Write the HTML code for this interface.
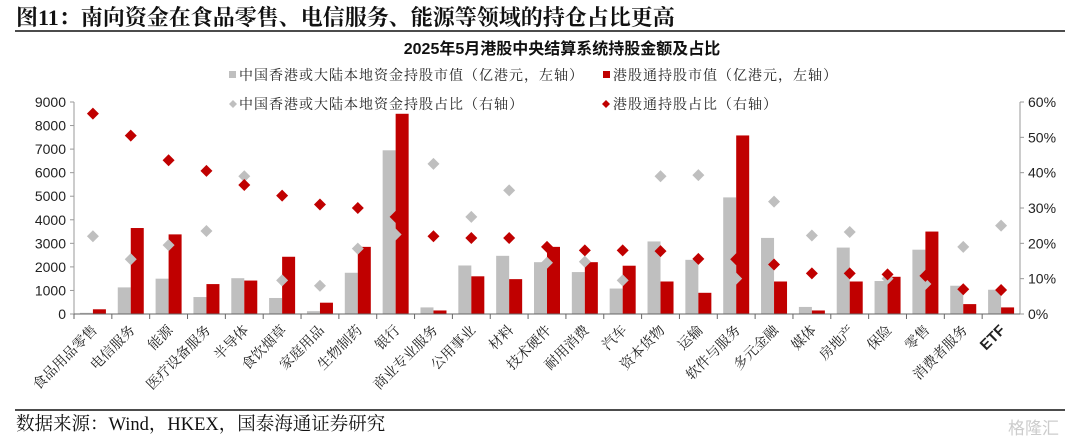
<!DOCTYPE html>
<html><head><meta charset="utf-8">
<style>
html,body{margin:0;padding:0;background:#fff;}
body{width:1080px;height:442px;overflow:hidden;position:relative;}
svg{position:absolute;left:0;top:0;}
</style></head>
<body>
<svg id="chart" width="1080" height="442" xmlns="http://www.w3.org/2000/svg">
  <text x="16" y="25" font-family="'Liberation Serif','Noto Serif CJK SC',serif" font-weight="bold" font-size="22" fill="#111">图11：南向资金在食品零售、电信服务、能源等领域的持仓占比更高</text>
  <line x1="15" y1="31" x2="1065" y2="31" stroke="#111" stroke-width="1.5"/>
  <text x="562" y="54" text-anchor="middle" font-family="'Liberation Sans','Noto Sans CJK SC',sans-serif" font-weight="bold" font-size="16" fill="#111">2025年5月港股中央结算系统持股金额及占比</text>
  <g font-family="'Liberation Serif','Noto Serif CJK SC',serif" font-size="14" letter-spacing="1" fill="#222">
    <g><rect x="229" y="71" width="7" height="7" fill="#bfbfbf"/><text x="239" y="80">中国香港或大陆本地资金持股市值（亿港元，左轴）</text></g>
    <g><rect x="603" y="71" width="7" height="7" fill="#c00000"/><text x="613" y="80">港股通持股市值（亿港元，左轴）</text></g>
    <g><path d="M233,100 L237,104 L233,108 L229,104Z" fill="#bfbfbf"/><text x="239" y="109">中国香港或大陆本地资金持股占比（右轴）</text></g>
    <g><path d="M606,100 L610,104 L606,108 L602,104Z" fill="#c00000"/><text x="613" y="109">港股通持股占比（右轴）</text></g>
  </g>
  <g id="plot"></g>
  <line x1="15" y1="410" x2="1065" y2="410" stroke="#111" stroke-width="1.5"/>
  <text x="16" y="430" font-family="'Liberation Serif','Noto Serif CJK SC',serif" font-size="18.5" fill="#111">数据来源：Wind，HKEX，国泰海通证券研究</text>
  <text x="1008" y="434" font-family="'Liberation Sans','Noto Sans CJK SC',sans-serif" font-size="17" fill="#ccc">格隆汇</text>
</svg>
<script>
const categories=["食品用品零售","电信服务","能源","医疗设备服务","半导体","食饮烟草","家庭用品","生物制药","银行","商业专业服务","公用事业","材料","技术硬件","耐用消费","汽车","资本货物","运输","软件与服务","多元金融","媒体","房地产","保险","零售","消费者服务","ETF"];
const localValue=[50,1130,1500,720,1520,680,120,1750,6950,280,2060,2470,2200,1780,1080,3080,2300,4950,3230,300,2820,1400,2730,1200,1030];
const connectValue=[200,3650,3380,1270,1420,2430,480,2850,8500,150,1600,1480,2850,2200,2050,1380,900,7580,1380,150,1380,1580,3500,420,280];
const localShare=[22,15.5,19.5,23.5,39,9.5,8,18.5,22.5,42.5,27.5,35,14.5,14.8,9.5,39,39.3,10,31.8,22.2,23.2,10,8.5,19,25];
const connectShare=[56.7,50.5,43.5,40.5,36.5,33.5,31,30,27.5,22,21.5,21.5,19,18,18,17.8,15.6,15.5,14,11.5,11.5,11.2,10.8,7,6.8];
const leftTicks=[0,1000,2000,3000,4000,5000,6000,7000,8000,9000];
const rightTicks=[0,10,20,30,40,50,60];

const X0=74,X1=1020,Y0=314,Y1=102;
const band=(X1-X0)/categories.length;
const xc=i=>X0+band*(i+0.5);
const yL=v=>Y0-(v/9000)*(Y0-Y1);
const yR=v=>Y0-(v/60)*(Y0-Y1);
const NS="http://www.w3.org/2000/svg";
const g=document.getElementById('plot');
function mk(t,a){const e=document.createElementNS(NS,t);for(const k in a)e.setAttribute(k,a[k]);g.appendChild(e);return e;}

leftTicks.forEach(v=>{
  const t=mk('text',{x:X0-8,y:yL(v)+5,'text-anchor':'end','font-family':'Liberation Sans, sans-serif','font-size':'14',fill:'#222'});
  t.textContent=v;
  
  
  const l=mk('line',{x1:X0-4,x2:X0,y1:yL(v),y2:yL(v),stroke:'#999'});
  
  
});
rightTicks.forEach(v=>{
  const t=mk('text',{x:X1+8,y:yR(v)+5,'font-family':'Liberation Sans, sans-serif','font-size':'14',fill:'#222'});
  t.textContent=v+'%';
  
  
  const l=mk('line',{x1:X1,x2:X1+4,y1:yR(v),y2:yR(v),stroke:'#999'});
  
  
});
const la=mk('line',{x1:X0,x2:X0,y1:Y1,y2:Y0,stroke:'#999'});


const ra=mk('line',{x1:X1,x2:X1,y1:Y1,y2:Y0,stroke:'#999'});



categories.forEach((c,i)=>{
  const cx=xc(i);
  const b1=mk('rect',{x:cx-13,y:yL(localValue[i]),width:13,height:Y0-yL(localValue[i]),fill:'#bfbfbf'});
  
  
  const b2=mk('rect',{x:cx,y:yL(connectValue[i]),width:13,height:Y0-yL(connectValue[i]),fill:'#c00000'});
  
  
  const tk=mk('line',{x1:X0+band*i,x2:X0+band*i,y1:Y0,y2:Y0+5,stroke:'#666'});
  
  
  const lb=mk('text',{x:cx+5,y:Y0+17,'text-anchor':'end','font-family':'Liberation Sans, Noto Serif CJK SC, serif','font-size':'14',fill:'#222',transform:`rotate(-45 ${cx+5} ${Y0+17})`});
  if(c==='ETF'){lb.setAttribute('font-weight','bold');lb.setAttribute('font-size','15');}
  lb.textContent=c;
  
  
});
categories.forEach((c,i)=>{
  const cx=xc(i);
  [[localShare,'#bfbfbf','point-local-share'],[connectShare,'#c00000','point-connect-share']].forEach(([arr,col,nm])=>{
    const y=yR(arr[i]);
    const p=mk('path',{d:`M${cx},${y-6} L${cx+6},${y} L${cx},${y+6} L${cx-6},${y}Z`,fill:col});
    
    
  });
});
const xa=mk('line',{x1:X0,x2:X1,y1:Y0,y2:Y0,stroke:'#666'});


</script>
</body></html>
